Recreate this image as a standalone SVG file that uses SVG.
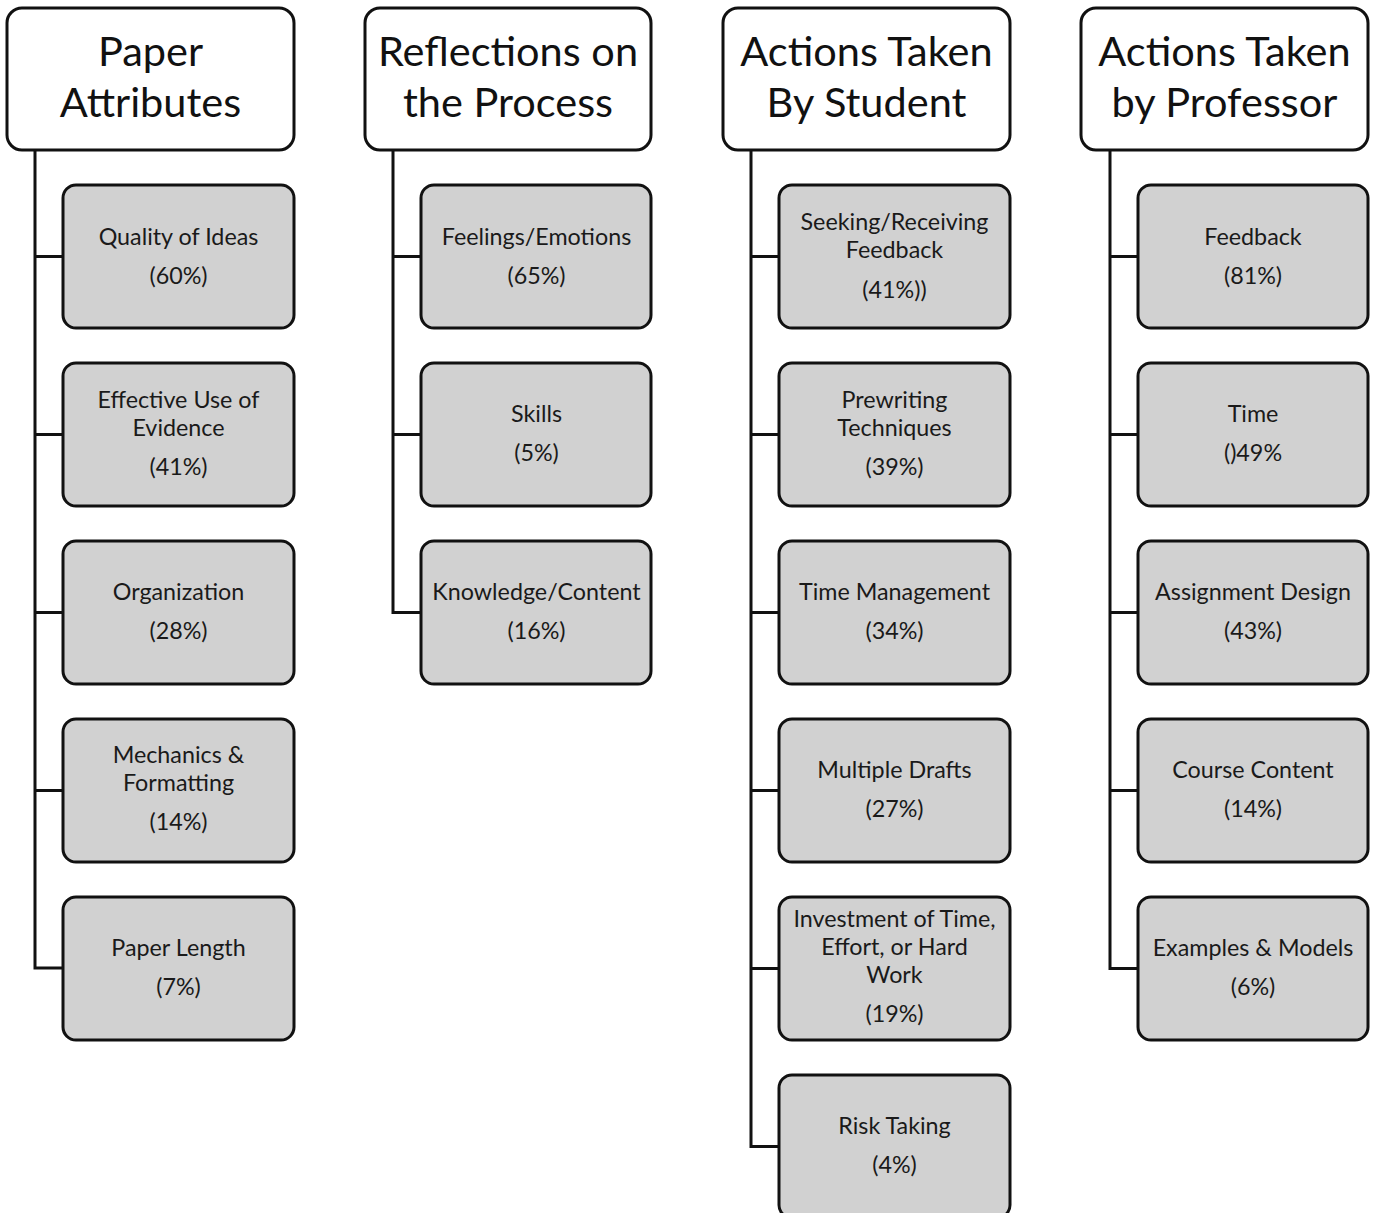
<svg xmlns="http://www.w3.org/2000/svg" width="1377" height="1213" viewBox="0 0 1377 1213">
<style>
.hdr{fill:#ffffff;stroke:#111;stroke-width:3}
.box{fill:#d1d1d1;stroke:#111;stroke-width:3}
.ht{font-family:Lato,"Open Sans","Liberation Sans",sans-serif;font-size:41.5px;fill:#111;text-anchor:middle}
.bt{font-family:Lato,"Open Sans","Liberation Sans",sans-serif;font-size:23.3px;fill:#1a1a1a;text-anchor:middle}
.conn{fill:none;stroke:#111;stroke-width:3;stroke-linejoin:miter;stroke-linecap:butt}
</style>
<rect width="1377" height="1213" fill="#ffffff"/>
<g id="connectors">
<path class="conn" d="M35 150 V968 H63 M35 256.5 H63 M35 434.5 H63 M35 612.5 H63 M35 790.5 H63"/>
<path class="conn" d="M393 150 V612.5 H421 M393 256.5 H421 M393 434.5 H421"/>
<path class="conn" d="M751 150 V1146.5 H779 M751 256.5 H779 M751 434.5 H779 M751 612.5 H779 M751 790.5 H779 M751 968.5 H779"/>
<path class="conn" d="M1110 150 V968.5 H1138 M1110 256.5 H1138 M1110 434.5 H1138 M1110 612.5 H1138 M1110 790.5 H1138"/>
</g>
<g id="h1"><rect class="hdr" x="7" y="8" width="287" height="142" rx="15"/><text class="ht" x="150.5" y="66">Paper</text><text class="ht" x="150.5" y="117">Attributes</text></g>
<g id="h2"><rect class="hdr" x="365" y="8" width="286" height="142" rx="15"/><text class="ht" x="508" y="66">Reflections on</text><text class="ht" x="508" y="117">the Process</text></g>
<g id="h3"><rect class="hdr" x="723" y="8" width="287" height="142" rx="15"/><text class="ht" x="866.5" y="66">Actions Taken</text><text class="ht" x="866.5" y="117">By Student</text></g>
<g id="h4"><rect class="hdr" x="1081" y="8" width="287" height="142" rx="15"/><text class="ht" x="1224.5" y="66">Actions Taken</text><text class="ht" x="1224.5" y="117">by Professor</text></g>

<g id="c1n1"><rect class="box" x="63" y="185" width="231" height="143" rx="13"/><text class="bt" x="178.5" y="245">Quality of Ideas</text><text class="bt" x="178.5" y="284">(60%)</text></g>
<g id="c1n2"><rect class="box" x="63" y="363" width="231" height="143" rx="13"/><text class="bt" x="178.5" y="408">Effective Use of</text><text class="bt" x="178.5" y="436">Evidence</text><text class="bt" x="178.5" y="475">(41%)</text></g>
<g id="c1n3"><rect class="box" x="63" y="541" width="231" height="143" rx="13"/><text class="bt" x="178.5" y="600">Organization</text><text class="bt" x="178.5" y="639">(28%)</text></g>
<g id="c1n4"><rect class="box" x="63" y="719" width="231" height="143" rx="13"/><text class="bt" x="178.5" y="763">Mechanics &amp;</text><text class="bt" x="178.5" y="791">Formatting</text><text class="bt" x="178.5" y="830">(14%)</text></g>
<g id="c1n5"><rect class="box" x="63" y="897" width="231" height="143" rx="13"/><text class="bt" x="178.5" y="956">Paper Length</text><text class="bt" x="178.5" y="995">(7%)</text></g>

<g id="c2n1"><rect class="box" x="421" y="185" width="230" height="143" rx="13"/><text class="bt" x="536.5" y="245">Feelings/Emotions</text><text class="bt" x="536.5" y="284">(65%)</text></g>
<g id="c2n2"><rect class="box" x="421" y="363" width="230" height="143" rx="13"/><text class="bt" x="536.5" y="422">Skills</text><text class="bt" x="536.5" y="461">(5%)</text></g>
<g id="c2n3"><rect class="box" x="421" y="541" width="230" height="143" rx="13"/><text class="bt" x="536.5" y="600">Knowledge/Content</text><text class="bt" x="536.5" y="639">(16%)</text></g>

<g id="c3n1"><rect class="box" x="779" y="185" width="231" height="143" rx="13"/><text class="bt" x="894.5" y="230">Seeking/Receiving</text><text class="bt" x="894.5" y="258">Feedback</text><text class="bt" x="894.5" y="298">(41%))</text></g>
<g id="c3n2"><rect class="box" x="779" y="363" width="231" height="143" rx="13"/><text class="bt" x="894.5" y="408">Prewriting</text><text class="bt" x="894.5" y="436">Techniques</text><text class="bt" x="894.5" y="475">(39%)</text></g>
<g id="c3n3"><rect class="box" x="779" y="541" width="231" height="143" rx="13"/><text class="bt" x="894.5" y="600">Time Management</text><text class="bt" x="894.5" y="639">(34%)</text></g>
<g id="c3n4"><rect class="box" x="779" y="719" width="231" height="143" rx="13"/><text class="bt" x="894.5" y="778">Multiple Drafts</text><text class="bt" x="894.5" y="817">(27%)</text></g>
<g id="c3n5"><rect class="box" x="779" y="897" width="231" height="143" rx="13"/><text class="bt" x="894.5" y="927">Investment of Time,</text><text class="bt" x="894.5" y="955">Effort, or Hard</text><text class="bt" x="894.5" y="983">Work</text><text class="bt" x="894.5" y="1022">(19%)</text></g>
<g id="c3n6"><rect class="box" x="779" y="1075" width="231" height="143" rx="13"/><text class="bt" x="894.5" y="1134">Risk Taking</text><text class="bt" x="894.5" y="1173">(4%)</text></g>

<g id="c4n1"><rect class="box" x="1138" y="185" width="230" height="143" rx="13"/><text class="bt" x="1253" y="245">Feedback</text><text class="bt" x="1253" y="284">(81%)</text></g>
<g id="c4n2"><rect class="box" x="1138" y="363" width="230" height="143" rx="13"/><text class="bt" x="1253" y="422">Time</text><text class="bt" x="1253" y="461">()49%</text></g>
<g id="c4n3"><rect class="box" x="1138" y="541" width="230" height="143" rx="13"/><text class="bt" x="1253" y="600">Assignment Design</text><text class="bt" x="1253" y="639">(43%)</text></g>
<g id="c4n4"><rect class="box" x="1138" y="719" width="230" height="143" rx="13"/><text class="bt" x="1253" y="778">Course Content</text><text class="bt" x="1253" y="817">(14%)</text></g>
<g id="c4n5"><rect class="box" x="1138" y="897" width="230" height="143" rx="13"/><text class="bt" x="1253" y="956">Examples &amp; Models</text><text class="bt" x="1253" y="995">(6%)</text></g>
</svg>
